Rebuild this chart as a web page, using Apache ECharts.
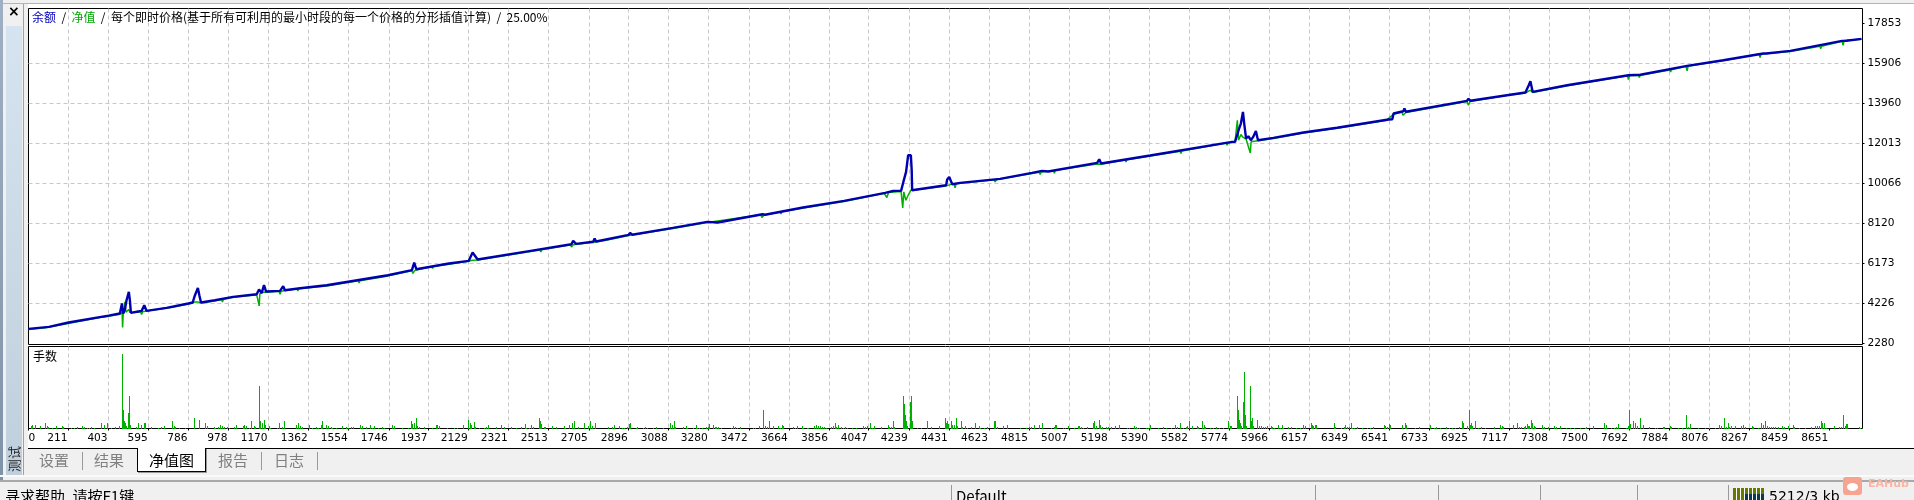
<!DOCTYPE html>
<html>
<head>
<meta charset="utf-8">
<script src="https://cdn.jsdelivr.net/npm/echarts@6/dist/echarts.min.js"></script>
<style>
html,body{margin:0;padding:0;width:1914px;height:500px;overflow:hidden;background:#f0f0f0;}
#chart{position:absolute;left:0;top:0;width:1914px;height:500px;z-index:2;}
.c{position:absolute;z-index:1;}
.t{position:absolute;z-index:3;font:15px "Noto Sans CJK SC",sans-serif;line-height:20px;white-space:nowrap;color:#808080;}
</style>
</head>
<body>
<div class="c" style="left:0;top:3px;width:1914px;height:1px;background:#b4b4b4"></div>
<div class="c" style="left:0;top:0;width:3px;height:480px;background:linear-gradient(#9fb0c4,#7f93a8)"></div>
<div class="c" style="left:6px;top:26px;width:16px;height:449px;background:linear-gradient(#d6e4f1,#c0cfdc)"></div>
<div class="c" style="left:23px;top:4px;width:1px;height:471px;background:#a0a0a0"></div>
<div class="c" style="left:24px;top:4px;width:1890px;height:445px;background:#fff"></div>
<div class="c" style="left:24px;top:4px;width:4px;height:445px;background:#f0f0f0"></div>
<div class="c" style="left:28px;top:448px;width:1886px;height:1px;background:#000"></div>
<div class="c" style="left:0;top:475px;width:1914px;height:2px;background:#fafafa"></div>
<div class="c" style="left:0;top:480px;width:1914px;height:1.5px;background:#a8a8a8"></div>
<div class="c" style="left:137px;top:448px;width:69px;height:24px;background:#fff;border:1.5px solid #000;border-top:none;box-sizing:border-box;box-shadow:1px 1px 0 #999"></div>
<div class="c" style="left:82px;top:452px;width:1px;height:18px;background:#999"></div>
<div class="c" style="left:261px;top:452px;width:1px;height:18px;background:#999"></div>
<div class="c" style="left:317px;top:452px;width:1px;height:18px;background:#999"></div>
<div class="c" style="left:951px;top:485px;width:1px;height:15px;background:#999"></div>
<div class="c" style="left:1315px;top:485px;width:1px;height:15px;background:#999"></div>
<div class="c" style="left:1438px;top:485px;width:1px;height:15px;background:#999"></div>
<div class="c" style="left:1540px;top:485px;width:1px;height:15px;background:#999"></div>
<div class="c" style="left:1637px;top:485px;width:1px;height:15px;background:#999"></div>
<div class="c" style="left:1728px;top:485px;width:1px;height:15px;background:#999"></div>
<div class="c" style="left:1733px;top:488px;width:31px;height:12px;background:repeating-linear-gradient(90deg,#667a00 0 3px,#fff 3px 4px)"></div>
<div class="c" style="left:1745px;top:494px;width:19px;height:6px;background:repeating-linear-gradient(90deg,#0a3a55 0 3px,#fff 3px 4px)"></div>
<div class="c" style="left:1843px;top:477px;width:19px;height:18px;border-radius:3px;background:#f6a48f"></div>
<div class="c" style="left:1847px;top:483px;width:11px;height:8px;border-radius:50%;background:#fff"></div>

<div class="t" style="left:8px;top:3px;color:#000;font:bold 14px 'DejaVu Sans'">×</div>
<div class="t" style="left:39px;top:450px">设置</div>
<div class="t" style="left:94px;top:450px">结果</div>
<div class="t" style="left:149px;top:450px;color:#000">净值图</div>
<div class="t" style="left:218px;top:450px">报告</div>
<div class="t" style="left:274px;top:450px">日志</div>
<div class="t" style="left:1px;top:449px;color:#222;font-size:13px;transform:rotate(-90deg);transform-origin:center;width:26px;z-index:5">测试</div>
<div class="t" style="left:5px;top:486px;color:#000">寻求帮助, 请按F1键</div>
<div class="t" style="left:956px;top:486px;color:#000">Default</div>
<div class="t" style="left:1769px;top:486px;color:#000;font-family:'DejaVu Sans';font-size:14px">5212/3 kb</div>
<div class="t" style="left:1868px;top:477px;color:#f7b6a6;font:bold 11px 'DejaVu Sans'">EAHub</div>

<div id="chart"></div>
<script>
const xStart = 19, xEnd = 8811;
const xTickLabels = ['0','211','403','595','786','978','1170','1362','1554','1746','1937','2129','2321','2513','2705','2896','3088','3280','3472','3664','3856','4047','4239','4431','4623','4815','5007','5198','5390','5582','5774','5966','6157','6349','6541','6733','6925','7117','7308','7500','7692','7884','8076','8267','8459','8651'];
const yTickValues = [2280,4226,6173,8120,10066,12013,13960,15906,17853];
const yMin = 2231, yMax = 18583;

const balance = [[19,2990],[117,3088],[211,3302],[403,3633],[457,3740],[467,4226],[473,3740],[481,3934],[489,4387],[500,4791],[505,4387],[510,3769],[545,3837],[561,3866],[574,4144],[585,3866],[681,4012],[785,4226],[806,4275],[817,4630],[831,4985],[838,4630],[846,4275],[913,4387],[1000,4548],[1113,4679],[1124,4908],[1137,4742],[1148,5117],[1158,4810],[1225,4840],[1240,5068],[1248,4874],[1321,4971],[1448,5117],[1742,5603],[1857,5847],[1868,6221],[1878,5895],[2035,6173],[2129,6299],[2148,6708],[2172,6367],[2426,6786],[2622,7112],[2630,7282],[2644,7127],[2726,7234],[2733,7389],[2740,7243],[2896,7564],[2903,7662],[2913,7574],[3108,7905],[3273,8197],[3323,8168],[3538,8572],[3541,8635],[3550,8547],[3732,8898],[3929,9219],[4126,9608],[4164,9706],[4202,9706],[4213,10143],[4226,10630],[4236,11443],[4249,11443],[4253,10713],[4255,9740],[4418,9983],[4423,10260],[4433,10387],[4442,10387],[4447,10032],[4485,10095],[4677,10290],[4830,10581],[4878,10679],[4907,10650],[5142,11068],[5152,11248],[5161,11039],[5396,11428],[5789,12090],[5803,12090],[5820,12659],[5831,12985],[5841,13550],[5847,12985],[5856,12255],[5867,12367],[5879,12173],[5890,12333],[5903,12625],[5913,12173],[5987,12284],[6131,12547],[6292,12781],[6539,13180],[6557,13194],[6563,13472],[6610,13584],[6615,13715],[6622,13559],[6915,14085],[6921,14192],[6931,14095],[7195,14494],[7211,14849],[7219,15044],[7230,14523],[7395,14849],[7689,15335],[7746,15360],[7970,15788],[8144,16065],[8336,16391],[8341,16469],[8350,16391],[8465,16518],[8713,17005],[8719,17063],[8734,17014],[8806,17102]];

const equity = [[19,2960],[100,3050],[366,3560],[371,3477],[376,3560],[457,3700],[468,3790],[470,3058],[473,3700],[478,3900],[481,4304],[486,3800],[500,3934],[505,3800],[510,3740],[545,3800],[556,3830],[561,3691],[566,3830],[600,3880],[692,4020],[697,3934],[702,4030],[785,4200],[806,4250],[817,4304],[831,4304],[846,4250],[913,4360],[945,4420],[949,4300],[953,4430],[995,4520],[1000,4470],[1005,4530],[1113,4650],[1120,4720],[1125,4110],[1128,4700],[1148,4780],[1158,4770],[1220,4820],[1225,4679],[1230,4820],[1306,4945],[1310,4840],[1314,4950],[1448,5080],[1600,5330],[1604,5230],[1608,5335],[1742,5570],[1857,5820],[1862,5686],[1868,5800],[1878,5860],[1952,6030],[1956,5930],[1960,6035],[2035,6140],[2120,6270],[2148,6330],[2172,6340],[2426,6760],[2471,6830],[2475,6730],[2479,6840],[2617,7090],[2622,6980],[2630,7080],[2715,7190],[2720,7112],[2726,7200],[2794,7320],[2798,7230],[2802,7330],[2896,7530],[3010,7720],[3014,7640],[3018,7720],[3108,7870],[3273,8170],[3530,8550],[3535,8411],[3545,8530],[3622,8680],[3626,8580],[3630,8690],[3732,8870],[3929,9190],[4121,9590],[4134,9384],[4142,9630],[4202,9680],[4210,8878],[4215,9657],[4225,9253],[4236,9496],[4250,9740],[4418,9950],[4456,10060],[4461,9852],[4466,10060],[4648,10250],[4653,10143],[4660,10260],[4830,10550],[4865,10610],[4869,10500],[4873,10620],[4933,10690],[4937,10560],[4941,10710],[5142,11020],[5160,11000],[5276,11210],[5280,11110],[5284,11220],[5396,11400],[5540,11640],[5544,11530],[5548,11650],[5760,12040],[5765,11929],[5770,12040],[5789,12060],[5803,12100],[5814,13146],[5820,12173],[5831,12450],[5841,12320],[5856,12230],[5876,11555],[5880,12100],[5913,12150],[5987,12260],[6131,12520],[6292,12750],[6530,13150],[6563,13440],[6603,13540],[6608,13389],[6622,13520],[6915,14060],[6922,13876],[6930,14060],[7130,14400],[7135,14314],[7140,14400],[7195,14470],[7219,14606],[7230,14500],[7395,14820],[7399,14730],[7403,14830],[7684,15310],[7689,15126],[7694,15320],[7736,15340],[7741,15224],[7746,15340],[7887,15590],[7891,15490],[7895,15600],[7965,15770],[7970,15545],[7975,15770],[8144,16050],[8149,15953],[8154,16060],[8315,16370],[8320,16197],[8325,16370],[8465,16495],[8607,16740],[8611,16630],[8615,16750],[8713,16985],[8718,16795],[8723,17030],[8806,17090]];

const lots = [[29,3],[38,4],[48,4],[75,3],[99,6],[106,3],[112,2],[131,1],[152,3],[181,3],[186,2],[224,1],[237,1],[251,2],[277,3],[283,2],[298,1],[309,1],[317,2],[333,1],[368,6],[381,4],[397,6],[414,1],[435,2],[451,3],[469,75],[474,19],[478,8],[483,6],[488,3],[498,16],[502,33],[507,4],[536,2],[546,6],[560,4],[574,6],[579,6],[608,2],[642,1],[656,2],[669,3],[709,8],[715,3],[723,2],[741,1],[771,1],[810,11],[814,7],[834,9],[838,8],[867,6],[874,3],[906,2],[915,1],[928,2],[938,4],[946,3],[954,2],[970,2],[978,1],[1003,2],[1013,4],[1045,3],[1054,4],[1064,3],[1074,1],[1088,8],[1098,3],[1107,2],[1126,43],[1131,8],[1136,6],[1150,9],[1155,4],[1170,3],[1176,1],[1208,1],[1218,3],[1222,6],[1232,2],[1242,8],[1246,2],[1299,4],[1312,6],[1320,3],[1328,2],[1366,4],[1376,1],[1398,2],[1405,1],[1419,4],[1424,8],[1443,4],[1456,3],[1467,2],[1475,1],[1491,1],[1523,3],[1539,2],[1549,1],[1565,2],[1576,2],[1606,4],[1616,3],[1635,2],[1654,4],[1664,1],[1677,3],[1696,1],[1715,2],[1725,1],[1763,4],[1773,3],[1811,1],[1840,1],[1851,8],[1859,5],[1869,6],[1875,11],[1882,3],[1893,2],[1914,2],[1955,1],[1971,4],[1978,4],[1986,3],[2024,1],[2061,1],[2075,1],[2104,4],[2128,9],[2134,6],[2141,4],[2154,7],[2160,2],[2179,1],[2203,1],[2213,2],[2224,4],[2258,2],[2286,4],[2298,2],[2331,2],[2358,1],[2378,2],[2397,5],[2406,1],
[2419,1],[2430,4],[2436,2],[2468,11],[2473,8],[2478,5],[2488,2],[2497,2],[2529,3],[2548,2],[2587,3],[2593,1],[2612,4],[2625,6],[2632,8],[2651,2],[2684,6],[2700,3],[2713,8],[2720,3],[2737,6],[2795,2],[2814,2],[2828,4],[2852,3],[2864,1],[2873,1],[2886,2],[2896,5],[2902,6],[2929,1],[2936,2],[2963,1],[2974,2],[2985,1],[3012,1],[3025,2],[3059,1],[3096,6],[3102,4],[3112,8],[3120,2],[3155,2],[3169,3],[3174,1],[3203,1],[3217,4],[3222,1],[3232,1],[3246,1],[3265,2],[3275,2],[3280,5],[3299,4],[3308,2],[3316,2],[3326,2],[3337,1],[3385,1],[3395,3],[3404,2],[3414,1],[3428,2],[3491,1],[3502,1],[3520,3],[3539,19],[3548,3],[3558,2],[3568,8],[3587,3],[3611,3],[3620,1],[3630,4],[3635,3],[3683,2],[3692,1],[3702,3],[3726,3],[3734,1],[3750,1],[3758,1],[3785,3],[3793,4],[3803,3],[3812,3],[3822,2],[3832,2],[3841,1],[3865,2],[3875,3],[3884,6],[3889,2],[3899,4],[3913,2],[3923,1],[3932,2],[3942,1],[3966,1],[3985,1],[4019,3],[4028,2],[4038,3],[4052,6],[4062,1],[4072,3],[4105,2],[4139,4],[4145,2],[4152,2],[4163,8],[4168,2],[4211,33],[4216,25],[4220,14],[4225,8],[4230,3],[4244,27],[4249,33],[4254,8],[4278,1],[4297,1],[4326,8],[4345,2],[4384,3],[4412,11],[4417,6],[4422,8],[4427,5],[4441,8],[4446,4],[4456,4],[4465,11],[4470,3],[4489,8],[4494,2],[4508,3],[4518,1],[4537,2],[4556,6],[4576,3],[4580,1],[4600,1],[4614,2],[4648,8],[4652,8],[4662,2],[4691,3],[4710,4],[4772,1],[4801,1],
[4816,2],[4827,2],[4837,4],[4861,4],[4865,2],[4880,6],[4923,1],[4933,2],[4942,4],[4947,4],[4976,1],[4990,1],[5003,3],[5032,1],[5048,3],[5054,3],[5065,2],[5075,1],[5094,2],[5123,6],[5128,8],[5137,3],[5152,9],[5157,4],[5166,2],[5185,2],[5195,2],[5209,2],[5229,3],[5249,4],[5286,1],[5296,1],[5320,3],[5326,2],[5334,1],[5344,1],[5377,1],[5387,1],[5397,4],[5432,1],[5459,2],[5470,1],[5497,1],[5517,4],[5523,2],[5541,6],[5555,1],[5569,2],[5574,3],[5584,8],[5598,3],[5622,3],[5627,2],[5646,8],[5656,4],[5661,2],[5685,1],[5699,1],[5713,2],[5728,1],[5747,1],[5768,8],[5777,3],[5782,3],[5811,33],[5816,19],[5821,9],[5825,6],[5830,3],[5840,27],[5845,57],[5849,14],[5854,3],[5873,43],[5878,8],[5883,11],[5888,3],[5907,9],[5917,3],[5926,3],[5936,2],[5945,2],[5955,3],[5974,3],[5979,2],[5989,1],[6011,4],[6017,1],[6027,4],[6032,1],[6056,2],[6070,2],[6094,1],[6113,1],[6128,4],[6137,3],[6166,6],[6171,4],[6176,3],[6185,4],[6190,4],[6277,6],[6281,2],[6310,1],[6325,2],[6329,4],[6339,2],[6349,2],[6358,6],[6363,1],[6373,1],[6387,2],[6411,1],[6435,1],[6449,1],[6464,2],[6517,4],[6521,3],[6531,2],[6541,5],[6545,4],[6603,4],[6617,6],[6622,4],[6665,1],[6685,2],[6737,4],[6757,1],[6766,2],[6785,1],[6814,2],[6829,1],[6843,1],[6857,1],[6877,2],[6891,8],[6896,6],[6915,3],[6925,19],[6929,4],[6934,6],[6939,3],[6953,8],[6968,1],[6982,2],[7001,1],[7045,2],[7073,4],[7083,3],[7088,2],[7136,4],[7155,6],[7165,2],[7174,2],[7189,2],[7193,3],[7203,5],[7208,3],
[7211,3],[7221,9],[7225,6],[7235,3],[7240,2],[7273,4],[7283,2],[7302,2],[7331,3],[7341,2],[7360,3],[7389,1],[7408,1],[7427,1],[7456,1],[7480,1],[7485,2],[7517,3],[7574,6],[7581,4],[7605,1],[7619,1],[7629,2],[7638,5],[7677,1],[7686,3],[7691,19],[7696,5],[7710,8],[7720,6],[7729,3],[7744,11],[7758,4],[7787,2],[7816,1],[7825,1],[7854,2],[7859,2],[7888,3],[7893,2],[7926,1],[7945,1],[7965,14],[7974,2],[7984,5],[8022,1],[8056,1],[8075,1],[8104,1],[8123,4],[8133,3],[8147,11],[8157,2],[8166,6],[8171,2],[8181,3],[8200,3],[8229,3],[8238,4],[8248,2],[8281,3],[8286,2],[8310,1],[8325,6],[8334,4],[8344,8],[8353,3],[8363,2],[8373,2],[8382,2],[8392,2],[8406,2],[8425,3],[8435,2],[8454,3],[8478,4],[8483,2],[8507,1],[8536,1],[8565,2],[8584,3],[8593,3],[8603,3],[8613,8],[8617,6],[8627,6],[8637,1],[8675,3],[8699,2],[8709,2],[8718,14],[8728,3],[8733,5],[8737,5],[8795,2],[8800,1]];
const lotsMax = 82;

const titleParts = ['余额','  /  ','净值','  /  每个即时价格(基于所有可利用的最小时段的每一个价格的分形插值计算)  /  25.00%'];
const subTitle = '手数';

const BLUE = '#0000b0', GREEN = '#00b000', GRID = '#c8c8c8', FONT = '"DejaVu Sans"';
const xTickVals = [xStart].concat(xTickLabels.slice(1).map(Number));
const dash = {color: GRID, type: [4, 3], width: 1};
const cjk = {fontFamily: '"Noto Sans CJK SC"', fontSize: 12, fontWeight: 'normal'};

function xAxisOf(gridIndex, showLabels) {
  return {
    type: 'value', gridIndex, min: xStart, max: xEnd,
    axisLine: {show: false},
    axisTick: {show: showLabels, length: 2, customValues: xTickVals, lineStyle: {color: '#000'}},
    axisLabel: {
      show: showLabels, customValues: xTickVals, align: 'right', alignMinLabel: 'left',
      color: '#000', fontFamily: FONT, fontSize: 10.6, margin: 4, padding: [0, 1, 0, 0], hideOverlap: false,
      formatter: v => v === xStart ? xTickLabels[0] : String(v)
    },
    splitLine: {show: true, lineStyle: dash, showMinLine: false, showMaxLine: false}
  };
}

// each lot bar: a one-pixel rectangle placed by the chart's own axes and snapped to the pixel grid
function renderLotBar(params, api) {
  const top = api.coord([api.value(0), api.value(1)]);
  const base = api.coord([api.value(0), 0]);
  const x = Math.round(top[0]);
  const y = Math.round(top[1]);
  return {type: 'rect', shape: {x, y, width: 1, height: Math.round(base[1]) - y}, style: {fill: GREEN}};
}

const chart = echarts.init(document.getElementById('chart'));
chart.setOption({
  animation: false,
  backgroundColor: 'transparent',
  title: [{
    left: 32, top: 11, padding: 0,
    text: `{b|${titleParts[0]}}{k|${titleParts[1]}}{g|${titleParts[2]}}{k|${titleParts[3]}}`,
    textStyle: {fontWeight: 'normal', rich: {
      b: {color: '#0000c0', ...cjk},
      g: {color: '#00a800', ...cjk},
      k: {color: '#000', ...cjk}
    }}
  }, {
    left: 33, top: 350, padding: 0, text: subTitle,
    textStyle: {color: '#000', ...cjk}
  }],
  grid: [
    {left: 28.5, width: 1834, top: 8.5, height: 336, show: true, borderColor: '#000', borderWidth: 1, backgroundColor: '#fff'},
    {left: 28.5, width: 1834, top: 346.5, height: 82, show: true, borderColor: '#000', borderWidth: 1, backgroundColor: '#fff'}
  ],
  xAxis: [xAxisOf(0, false), xAxisOf(1, true)],
  yAxis: [{
    type: 'value', gridIndex: 0, position: 'right', min: yMin, max: yMax,
    axisLine: {show: false},
    axisTick: {show: true, length: 2, customValues: yTickValues, lineStyle: {color: '#000'}},
    axisLabel: {color: '#000', fontFamily: FONT, fontSize: 10.6, margin: 5, customValues: yTickValues, hideOverlap: false, formatter: v => String(v)},
    splitLine: {show: true, lineStyle: dash, showMinLine: false, showMaxLine: false}
  }, {
    type: 'value', gridIndex: 1, position: 'right', min: 0, max: lotsMax,
    axisLine: {show: false}, axisTick: {show: false}, axisLabel: {show: false}, splitLine: {show: false}
  }],
  series: [
    {name: '净值', type: 'line', xAxisIndex: 0, yAxisIndex: 0, data: equity, showSymbol: false, smooth: false,
     lineStyle: {color: GREEN, width: 1.5}, z: 3},
    {name: '余额', type: 'line', xAxisIndex: 0, yAxisIndex: 0, data: balance, showSymbol: false, smooth: false,
     lineStyle: {color: BLUE, width: 2.4}, z: 4},
    {name: '手数', type: 'custom', xAxisIndex: 1, yAxisIndex: 1, data: lots, encode: {x: 0, y: 1}, renderItem: renderLotBar, z: 3}
  ]
});
</script>
</body>
</html>
